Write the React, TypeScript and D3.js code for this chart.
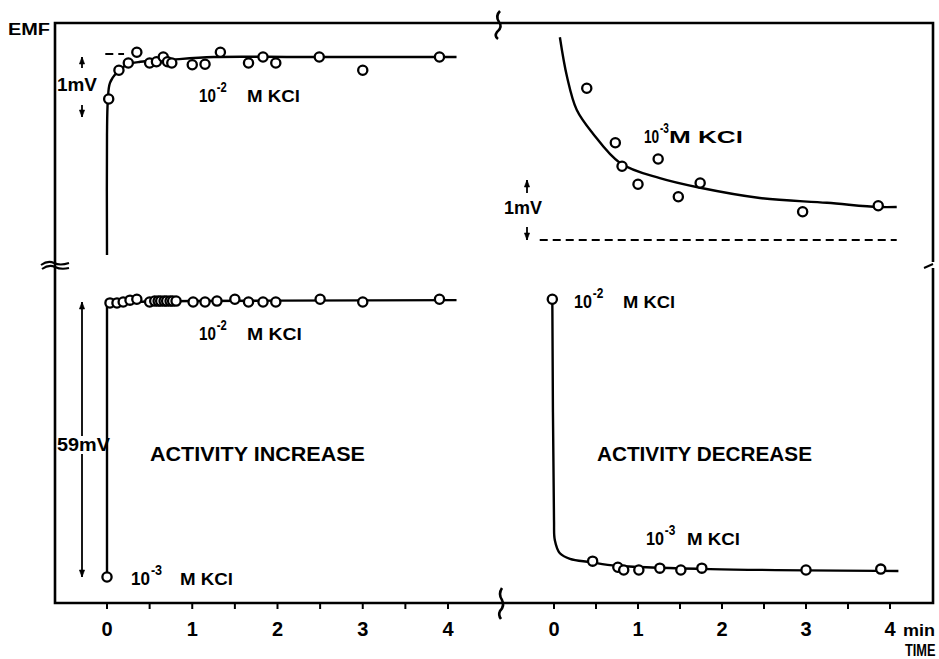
import React from "react";
import * as d3 from "d3";

// ---------- DATA ----------
const timeTicks = [0, 1, 2, 3, 4];
const halfTicks = [0.5, 1.5, 2.5, 3.5];

// Top-left: 10^-2 M KCl after activity increase (mV relative to plateau)
const tlPoints: [number, number][] = [
  [0.02, -0.7], [0.14, -0.22], [0.25, -0.1], [0.35, 0.08], [0.5, -0.1],
  [0.58, -0.08], [0.66, 0], [0.71, -0.08], [0.76, -0.1], [1.0, -0.13],
  [1.15, -0.12], [1.33, 0.08], [1.66, -0.1], [1.83, 0], [1.98, -0.1],
  [2.49, 0], [3.0, -0.22], [3.9, 0],
];
const tlCurve: [number, number][] = [
  [0, -3.3], [0, -1.3], [0.01, -0.72], [0.035, -0.43], [0.12, -0.25],
  [0.23, -0.13], [0.39, -0.08], [0.7, -0.05], [1.25, 0], [2.27, 0], [4.1, 0],
];
const tlDash: [number, number][] = [[-0.02, 0.05], [0.2, 0.05]];

// Top-right: 10^-3 M KCl after activity decrease (mV above final baseline)
const trPoints: [number, number][] = [
  [0.39, 2.53], [0.73, 1.62], [0.81, 1.23], [1.0, 0.93], [1.24, 1.35],
  [1.48, 0.72], [1.74, 0.95], [2.96, 0.47], [3.86, 0.57],
];
const trCurve: [number, number][] = [
  [0.07, 3.38], [0.155, 2.72], [0.27, 2.17], [0.46, 1.78], [0.79, 1.28],
  [1.26, 1.03], [1.74, 0.87], [2.45, 0.7], [3.25, 0.62], [3.86, 0.55], [4.08, 0.55],
];
const trDash: [number, number][] = [[-0.17, 0], [4.08, 0]];

// Bottom-left: 10^-3 -> 10^-2 M KCl (mV above 10^-3 level)
const blPoints: [number, number][] = [
  [0, 0],
  [0.035, 58.8], [0.117, 58.8], [0.19, 59.0], [0.27, 59.4], [0.35, 59.6], [0.5, 59.0],
  [0.56, 59.2], [0.6, 59.2], [0.63, 59.2], [0.67, 59.2], [0.7, 59.2], [0.74, 59.2],
  [0.77, 59.2], [0.81, 59.2], [1.01, 59.0], [1.15, 59.0], [1.29, 59.2], [1.5, 59.6],
  [1.66, 59.0], [1.83, 59.0], [1.98, 59.0], [2.5, 59.6], [3.0, 59.0], [3.9, 59.6],
];
const blCurve: [number, number][] = [
  [0, 0], [0, 58.8], [0.1, 58.9], [0.5, 59.1], [1, 59.2], [2, 59.3], [4.1, 59.4],
];

// Bottom-right: 10^-2 -> 10^-3 M KCl
const brPoints: [number, number][] = [
  [-0.02, 59.6],
  [0.46, 3.4], [0.76, 2.1], [0.83, 1.5], [1.01, 1.5], [1.26, 1.9],
  [1.51, 1.5], [1.76, 1.9], [3.0, 1.5], [3.89, 1.7],
];
const brCurve: [number, number][] = [
  [-0.02, 59.6], [0, 12.2], [0.01, 7.9], [0.07, 5.1], [0.19, 3.9],
  [0.43, 3.2], [0.75, 2.4], [1.86, 1.7], [4.1, 1.3],
];

// ---------- SCALES ----------
const xL = d3.scaleLinear().domain([0, 4]).range([107, 448]);
const xR = d3.scaleLinear().domain([0, 4]).range([554, 890]);
const yTL = d3.scaleLinear().domain([-1, 0]).range([117, 57]);
const yTR = d3.scaleLinear().domain([0, 1]).range([240, 180]);
const yB = d3.scaleLinear().domain([0, 59]).range([577, 302]);

const FONT = "'Liberation Sans', Arial, sans-serif";
const INK = "#000";

function mkLine(x: d3.ScaleLinear<number, number>, y: d3.ScaleLinear<number, number>, smooth = true) {
  const l = d3.line<[number, number]>().x((d) => x(d[0])).y((d) => y(d[1]));
  return smooth ? l.curve(d3.curveCatmullRom.alpha(0.5)) : l;
}

function Points({ data, x, y }: { data: [number, number][]; x: any; y: any }) {
  return (
    <g>
      {data.map((d, i) => (
        <circle key={i} cx={x(d[0])} cy={y(d[1])} r={4.6} fill="#fff" stroke={INK} strokeWidth={2.3} />
      ))}
    </g>
  );
}

function Kcl({ x, y, exp, sx, mx, end }: { x: number; y: number; exp: string; sx: number; mx: number; end: number }) {
  return (
    <g fontFamily={FONT} fontWeight="bold" fill={INK}>
      <text transform={`translate(${x},${y}) scale(${sx},1)`} fontSize={19}>
        10<tspan dx={1} dy={-10} fontSize={14}>{exp}</tspan>
      </text>
      <text x={mx} y={y} fontSize={17} textLength={end - mx} lengthAdjust="spacingAndGlyphs">M KCl</text>
    </g>
  );
}

function Marker({ x, y1, y2 }: { x: number; y1: number; y2: number }) {
  // arrow pointing from y2 to y1 (tip at y1)
  const dir = y1 < y2 ? 1 : -1;
  return (
    <g stroke={INK} fill={INK}>
      <line x1={x} y1={y1} x2={x} y2={y2} strokeWidth={1.8} />
      <path d={`M${x},${y1} L${x - 2.6},${y1 + dir * 7} L${x + 2.6},${y1 + dir * 7} Z`} strokeWidth={0.6} />
    </g>
  );
}

export default function App() {
  const lineTL = mkLine(xL, yTL);
  const lineTR = mkLine(xR, yTR);
  const lineBL = mkLine(xL, yB, false);
  const lineBR = mkLine(xR, yB);
  const dashTL = mkLine(xL, yTL, false);
  const dashTR = mkLine(xR, yTR, false);

  const axY = 603;
  return (
    <svg width={939} height={659} style={{ position: "absolute", left: 0, top: 0, background: "#fff" }}>
      <rect x={0} y={0} width={939} height={659} fill="#fff" />
      {/* frame */}
      <path d={`M55,23 H933 V603 H55 Z`} fill="none" stroke={INK} strokeWidth={2.6} />
      {/* break marks */}
      <g fill="none" stroke={INK} strokeWidth={2}>
        <path d="M41,265 q7,-5 13,-2 t15,0" />
        <path d="M42,269 q7,-5 13,-2 t14,1" />
        <rect x={929} y={262} width={8} height={6} fill="#fff" stroke="none" />
        <path d="M924,268 l9,-4" />
        <path d="M500,11 q-5,5 -1,11 q4,5 -2,10 q-3,4 1,7" strokeWidth={2.6} />
        <path d="M502,588 q-4,6 0,12 q3,6 -2,11 q-2,4 1,8" strokeWidth={2.6} />
      </g>
      {/* ticks */}
      <g stroke={INK} strokeWidth={2}>
        {[xL, xR].map((s, k) =>
          [...timeTicks, ...halfTicks].map((t) => (
            <line key={k + "-" + t} x1={s(t)} x2={s(t)} y1={axY} y2={axY + 6} />
          ))
        )}
      </g>
      <g fontFamily={FONT} fontWeight="bold" fontSize={20} fill={INK} textAnchor="middle">
        {timeTicks.map((t) => (
          <text key={"l" + t} x={xL(t)} y={636}>{t}</text>
        ))}
        {timeTicks.map((t) => (
          <text key={"r" + t} x={xR(t)} y={636}>{t}</text>
        ))}
      </g>
      <g fontFamily={FONT} fontWeight="bold" fill={INK}>
        <text x={903} y={636} fontSize={17} textLength={32} lengthAdjust="spacingAndGlyphs">min</text>
        <text transform="translate(905,656) scale(0.8,1)" fontSize={16}>TIME</text>
        <text x={8} y={35} fontSize={16} textLength={42} lengthAdjust="spacingAndGlyphs">EMF</text>
        <text x={57} y={91} fontSize={19} textLength={40} lengthAdjust="spacingAndGlyphs">1mV</text>
        <text x={504} y={214} fontSize={18} textLength={38} lengthAdjust="spacingAndGlyphs">1mV</text>
        <text x={57} y={451} fontSize={19} textLength={53} lengthAdjust="spacingAndGlyphs">59mV</text>
        <text x={150} y={461} fontSize={20} textLength={215} lengthAdjust="spacingAndGlyphs">ACTIVITY  INCREASE</text>
        <text x={597} y={461} fontSize={20} textLength={215} lengthAdjust="spacingAndGlyphs">ACTIVITY  DECREASE</text>
      </g>

      {/* scale markers */}
      <Marker x={82} y1={57} y2={68} />
      <Marker x={82} y1={117} y2={105} />
      <Marker x={527} y1={180} y2={193} />
      <Marker x={527} y1={240} y2={227} />
      <Marker x={82} y1={302} y2={436} />
      <Marker x={82} y1={577} y2={454} />

      {/* dashed references */}
      <g fill="none" stroke={INK} strokeWidth={2} strokeDasharray="8,5">
        <path d={dashTL(tlDash) || ""} />
        <path d={dashTR(trDash) || ""} />
      </g>

      {/* curves */}
      <g fill="none" stroke={INK} strokeWidth={2.4}>
        <path d={lineTL(tlCurve) || ""} />
        <path d={lineTR(trCurve) || ""} />
        <path d={lineBL(blCurve) || ""} />
        <path d={lineBR(brCurve) || ""} />
      </g>

      <Points data={tlPoints} x={xL} y={yTL} />
      <Points data={trPoints} x={xR} y={yTR} />
      <Points data={blPoints} x={xL} y={yB} />
      <Points data={brPoints} x={xR} y={yB} />

      <Kcl x={199} y={102} exp="-2" sx={0.8} mx={247} end={300} />
      <Kcl x={644} y={143} exp="-3" sx={0.72} mx={669} end={743} />
      <Kcl x={199} y={340} exp="-2" sx={0.8} mx={247} end={302} />
      <Kcl x={131} y={585} exp="-3" sx={0.9} mx={180} end={233} />
      <Kcl x={574} y={308} exp="-2" sx={0.85} mx={623} end={675} />
      <Kcl x={646} y={545} exp="-3" sx={0.85} mx={687} end={740} />
    </svg>
  );
}
